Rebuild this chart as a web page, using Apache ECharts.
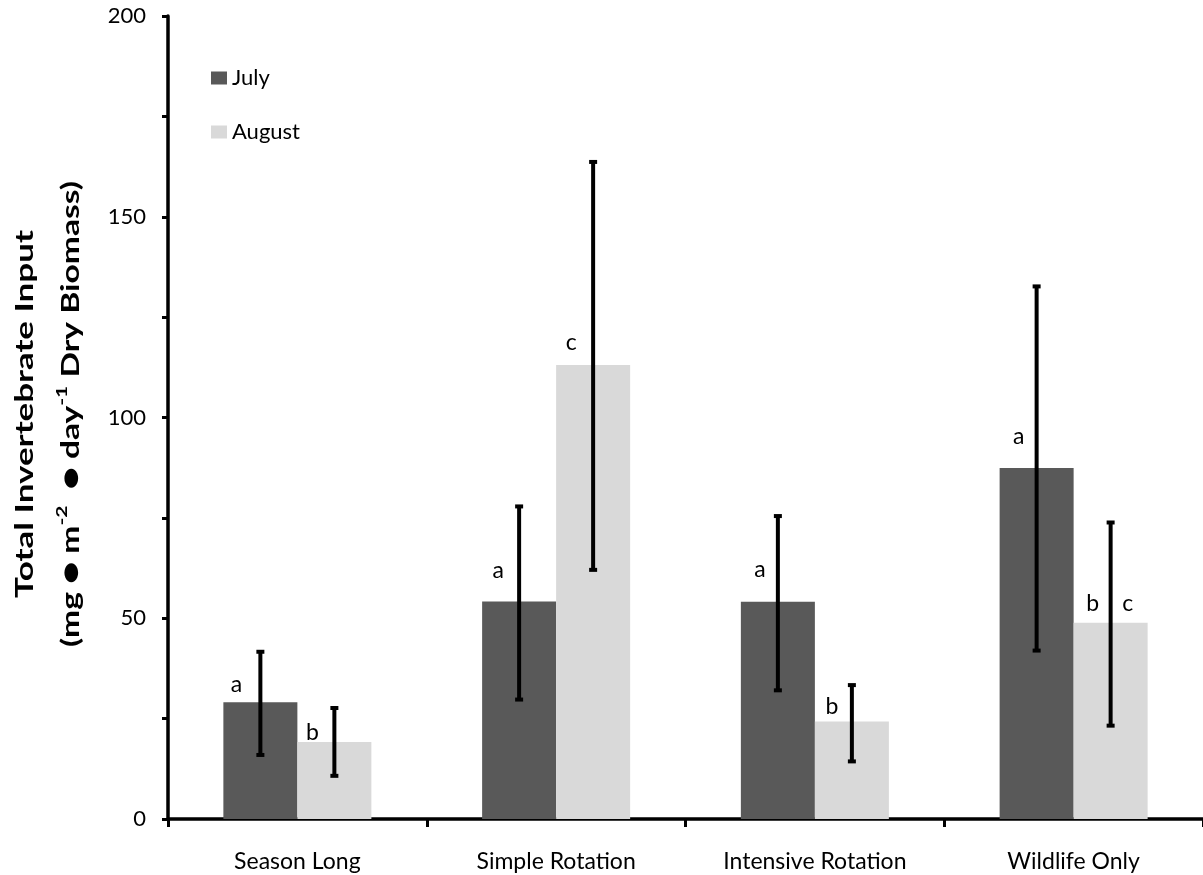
<!DOCTYPE html>
<html>
<head>
<meta charset="utf-8">
<script src="https://cdn.jsdelivr.net/npm/echarts@6/dist/echarts.min.js"></script>
<style>
  html, body { margin: 0; padding: 0; background: #fff; }
  #chart { width: 1203px; height: 875px; }
</style>
</head>
<body>
<div id="chart"></div>
<script>
// Grazing treatments
const categories = ['Season Long', 'Simple Rotation', 'Intensive Rotation', 'Wildlife Only'];

// Mean invertebrate input and error-bar limits (mg m^-2 day^-1)
const julyMean   = [29.1, 54.2, 54.1, 87.4];
const julyLow    = [15.7, 29.5, 31.8, 41.7];
const julyHigh   = [41.9, 78.1, 75.7, 132.9];
const augustMean = [19.2, 113.1, 24.3, 48.9];
const augustLow  = [10.5, 61.8, 14.1, 23.0];
const augustHigh = [27.9, 163.9, 33.6, 74.1];

// Significance letters
const julyLetters   = ['a', 'a', 'a', 'a'];
const augustLetters = ['b', 'c', 'b', 'b c'];

// Labelled y ticks
const yTickLabels = [0, 50, 100, 150, 200];

// ---- layout / style ----
const FONT = 'Lato';
const BAR_FRAC = 0.286;            // bar width as a share of the category band
const JULY_COLOR = '#595959';
const AUG_COLOR = '#d9d9d9';

// letter placement (px) relative to the top centre of each bar
const julyLetterOffset   = [[[-24, -18]], [[-21, -31]], [[-18, -32]], [[-18, -32]]];
const augustLetterOffset = [[[-22, -9]], [[-22, -22]], [[-20, -15]], [[-18, -19], [17, -19]]];

function errorSeries(name, side, means, lows, highs, letters, offsets) {
  return {
    type: 'custom',
    name: name,
    z: 5,
    silent: true,
    data: means.map((m, i) => [i, m, lows[i], highs[i]]),
    encode: { x: 0, y: [1, 2, 3] },
    renderItem: function (params, api) {
      const idx = api.value(0);
      const band = api.size([1, 0])[0];
      const bw = band * BAR_FRAC;
      const top = api.coord([idx, api.value(1)]);
      const cx = top[0] + side * bw / 2;
      const yLo = api.coord([idx, api.value(2)])[1];
      const yHi = api.coord([idx, api.value(3)])[1];
      const children = [
        { type: 'rect', shape: { x: cx - 2, y: yHi, width: 4, height: yLo - yHi }, style: { fill: '#000' } },
        { type: 'rect', shape: { x: cx - 4, y: yHi - 1, width: 8, height: 4 }, style: { fill: '#000' } },
        { type: 'rect', shape: { x: cx - 4, y: yLo - 3, width: 8, height: 4 }, style: { fill: '#000' } }
      ];
      letters[idx].split(' ').forEach((t, k) => {
        const o = offsets[idx][k];
        children.push({
          type: 'text',
          x: cx + o[0],
          y: top[1] + o[1],
          style: {
            text: t, fill: '#000', fontFamily: FONT, fontSize: 23,
            align: 'center', verticalAlign: 'middle'
          }
        });
      });
      return { type: 'group', children: children };
    }
  };
}

const chart = echarts.init(document.getElementById('chart'), null, { renderer: 'canvas' });

chart.setOption({
  animation: false,
  backgroundColor: '#fff',
  grid: { left: 168, right: 0, top: 16, bottom: 56, containLabel: false },
  legend: {
    data: ['July', 'August'],
    orient: 'vertical',
    left: 206,
    top: 62,
    itemWidth: 16,
    itemHeight: 13,
    itemGap: 32,
    icon: 'rect',
    textStyle: { fontFamily: FONT, fontSize: 22, color: '#000', lineHeight: 22 }
  },
  xAxis: {
    type: 'category',
    data: categories,
    axisLine: { lineStyle: { color: '#000', width: 3.5 } },
    axisTick: { show: true, length: 8, lineStyle: { color: '#000', width: 3 } },
    axisLabel: { color: '#000', fontFamily: FONT, fontSize: 23, margin: 31 },
    splitLine: { show: false }
  },
  yAxis: {
    type: 'value',
    min: 0,
    max: 200,
    interval: 25,
    axisLine: { show: true, lineStyle: { color: '#000', width: 3.5 } },
    axisTick: { show: true, length: 6, lineStyle: { color: '#000', width: 3 } },
    axisLabel: {
      color: '#000', fontFamily: FONT, fontSize: 22, margin: 22,
      formatter: v => (yTickLabels.indexOf(v) >= 0 ? String(v) : '')
    },
    splitLine: { show: false }
  },
  graphic: [{
    type: 'text',
    x: 48,
    y: 414,
    rotation: Math.PI / 2,
    scaleX: 1.4,
    style: {
      text: '{t|Total Invertebrate Input}\n{u|(mg }{d|●}{u| m}{s|-2}{u|  }{d|●}{u| day}{s|-1}{u| Dry Biomass)}',
      align: 'center',
      verticalAlign: 'middle',
      fill: '#000',
      rich: {
        t: { fontFamily: FONT, fontWeight: 'bold', fontSize: 25, lineHeight: 47, fill: '#000' },
        u: { fontFamily: FONT, fontWeight: 'bold', fontSize: 24, lineHeight: 47, fill: '#000' },
        s: { fontFamily: FONT, fontWeight: 'bold', fontSize: 15, lineHeight: 47, padding: [0, 0, 18, 0], fill: '#000' },
        d: { fontFamily: 'DejaVu Sans', fontSize: 18, lineHeight: 47, fill: '#000' }
      }
    }
  }],
  series: [
    {
      name: 'July', type: 'bar', data: julyMean,
      barWidth: (BAR_FRAC * 100) + '%', barGap: '0%',
      itemStyle: { color: JULY_COLOR }
    },
    {
      name: 'August', type: 'bar', data: augustMean,
      barWidth: (BAR_FRAC * 100) + '%', barGap: '0%',
      itemStyle: { color: AUG_COLOR }
    },
    errorSeries('July error', -1, julyMean, julyLow, julyHigh, julyLetters, julyLetterOffset),
    errorSeries('August error', 1, augustMean, augustLow, augustHigh, augustLetters, augustLetterOffset)
  ]
});
</script>
</body>
</html>
